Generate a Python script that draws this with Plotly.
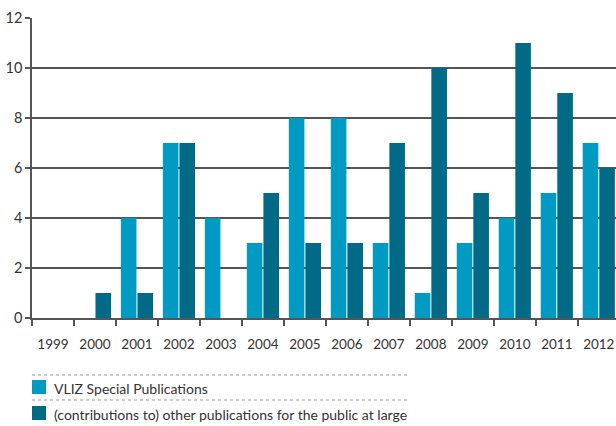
import plotly.graph_objects as go

years = ["1999", "2000", "2001", "2002", "2003", "2004", "2005", "2006",
         "2007", "2008", "2009", "2010", "2011", "2012"]
vliz_special = [0, 0, 4, 7, 4, 3, 8, 8, 3, 1, 3, 4, 5, 7]
other_public = [0, 1, 1, 7, 0, 5, 3, 3, 7, 10, 5, 11, 9, 6]
series_names = ["VLIZ Special Publications",
                "(contributions to) other publications for the public at large"]
series_colors = ["#009AC3", "#006A87"]
y_ticks = [0, 2, 4, 6, 8, 10, 12]

W, H = 616, 426
ML, MT, MB, MR = 32, 18, 108, 0
PW, PH = W - ML - MR, H - MT - MB

def px_x(px):
    return (px - ML) / PW

def px_y(py):
    return (H - MB - py) / PH

fig = go.Figure()
for name, vals, col in zip(series_names, [vliz_special, other_public], series_colors):
    fig.add_trace(go.Bar(x=years, y=vals, name=name, marker=dict(color=col, line=dict(width=0)),
                         showlegend=False))

font = dict(family="Lato, Open Sans, sans-serif", size=13.5, color="#333333")

fig.update_layout(
    width=W, height=H, autosize=False,
    margin=dict(l=ML, r=MR, t=MT, b=MB, pad=0),
    paper_bgcolor="white", plot_bgcolor="white",
    barmode="group", bargap=0.21, bargroupgap=0.06,
    font=font,
    xaxis=dict(type="category", range=[-0.5, 13.41], showgrid=False,
               showline=True, linecolor="#555555", linewidth=1.5,
               ticks="outside", tickson="boundaries", ticklen=6, tickwidth=1.5,
               tickcolor="#555555", ticklabelstandoff=13, tickfont=font),
    yaxis=dict(range=[0, 12], tickvals=y_ticks, showgrid=True, gridcolor="#555555",
               gridwidth=1.5, showline=True, linecolor="#555555", linewidth=1.5,
               ticks="outside", ticklen=5, tickwidth=1.5, tickcolor="#555555",
               zeroline=False, tickfont=dict(family=font["family"], size=14.5, color="#333333")),
)

# legend drawn manually: dotted separators, swatches and labels
sep_y = [375, 400]
item_y = [387, 413]
for sy in sep_y:
    fig.add_shape(type="line", xref="paper", yref="paper",
                  x0=px_x(32), x1=px_x(410), y0=px_y(sy), y1=px_y(sy),
                  line=dict(color="#999999", width=1, dash="dot"))
for name, col, iy in zip(series_names, series_colors, item_y):
    fig.add_shape(type="rect", xref="paper", yref="paper",
                  x0=px_x(32), x1=px_x(46), y0=px_y(iy - 7), y1=px_y(iy + 7),
                  fillcolor=col, line=dict(width=0))
    fig.add_annotation(text=name, xref="paper", yref="paper", x=px_x(52), y=px_y(iy + 1),
                       xanchor="left", yanchor="middle", showarrow=False,
                       font=dict(family=font["family"], size=14, color="#333333"))

fig.write_html("out.html", config={"displayModeBar": False},
               post_script="document.body.style.margin='0';document.body.style.overflow='hidden';")
